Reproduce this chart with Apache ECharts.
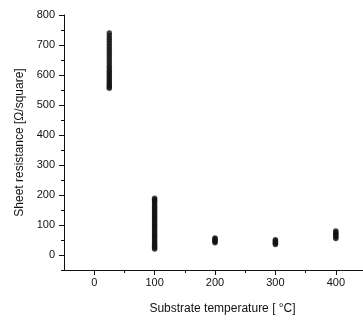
<!DOCTYPE html>
<html>
<head>
<meta charset="utf-8">
<script src="https://cdn.jsdelivr.net/npm/echarts@6/dist/echarts.min.js"></script>
<style>
  html, body { margin: 0; padding: 0; background: #fff; }
  #chart { width: 363px; height: 320px; }
</style>
</head>
<body>
<div id="chart"></div>
<script>
// Substrate temperature groups (°C) and sheet resistance readings (Ω/square)
const temp25 = [740, 731, 722, 713, 704, 695, 686, 677, 668, 659, 650, 641, 632, 623, 615, 608, 601, 594, 587, 580, 573, 567, 561, 556];
const temp100 = [189, 184, 179, 173, 167, 161, 155, 149, 143, 137, 131, 125, 119, 113, 107, 101, 95, 89, 83, 77, 71, 65, 59, 53, 47, 41, 35, 29, 24, 20];
const temp200 = [41, 45, 49, 53, 57];
const temp300 = [35, 39, 43, 47, 51];
const temp400 = [55, 60, 65, 70, 75, 80];

const xMajorTicks = [0, 100, 200, 300, 400];
const xMinorTicks = [50, 150, 250, 350];
const yMajorTicks = [0, 100, 200, 300, 400, 500, 600, 700, 800];
const yMinorTicks = [-50, 50, 150, 250, 350, 450, 550, 650, 750];

const groups = [
  [25, temp25],
  [100, temp100],
  [200, temp200],
  [300, temp300],
  [400, temp400]
];
const points = [];
groups.forEach(([t, vals]) => vals.forEach(v => points.push([t, v])));

const font = "'Liberation Sans', Arial, sans-serif";
const ink = '#111';

const xRange = {type: 'value', min: -50, max: 445};
const yRange = {type: 'value', min: -50, max: 800};

const chart = echarts.init(document.getElementById('chart'), null, {renderer: 'canvas'});
chart.setOption({
  animation: false,
  backgroundColor: '#fff',
  grid: {left: 64, right: 0, top: 15, bottom: 45, containLabel: false},
  xAxis: [
    Object.assign({}, xRange, {
      name: 'Substrate temperature [ °C]',
      nameLocation: 'middle',
      nameGap: 33,
      nameTextStyle: {color: ink, fontSize: 12, fontFamily: font, padding: [0, 0, 0, 18]},
      axisLine: {show: true, onZero: false, lineStyle: {color: ink, width: 1}},
      axisTick: {show: true, customValues: xMajorTicks, length: 5, lineStyle: {color: ink}},
      axisLabel: {customValues: xMajorTicks, color: ink, fontSize: 11, fontFamily: font, margin: 7},
      splitLine: {show: false}
    }),
    Object.assign({}, xRange, {
      position: 'bottom',
      axisLine: {show: false, onZero: false},
      axisTick: {show: true, customValues: xMinorTicks, length: 3, lineStyle: {color: ink}},
      axisLabel: {show: false},
      splitLine: {show: false}
    })
  ],
  yAxis: [
    Object.assign({}, yRange, {
      name: 'Sheet resistance [Ω/square]',
      nameLocation: 'middle',
      nameGap: 33,
      nameTextStyle: {color: ink, fontSize: 12, fontFamily: font},
      axisLine: {show: true, onZero: false, lineStyle: {color: ink, width: 1}},
      axisTick: {show: true, customValues: yMajorTicks, length: 5, lineStyle: {color: ink}},
      axisLabel: {customValues: yMajorTicks, color: ink, fontSize: 11, fontFamily: font, margin: 9},
      splitLine: {show: false}
    }),
    Object.assign({}, yRange, {
      position: 'left',
      axisLine: {show: false, onZero: false},
      axisTick: {show: true, customValues: yMinorTicks, length: 3, lineStyle: {color: ink}},
      axisLabel: {show: false},
      splitLine: {show: false}
    })
  ],
  series: [{
    type: 'scatter',
    xAxisIndex: 0,
    yAxisIndex: 0,
    data: points,
    symbol: 'circle',
    symbolSize: 5.5,
    itemStyle: {color: ink}
  }]
});
</script>
</body>
</html>
